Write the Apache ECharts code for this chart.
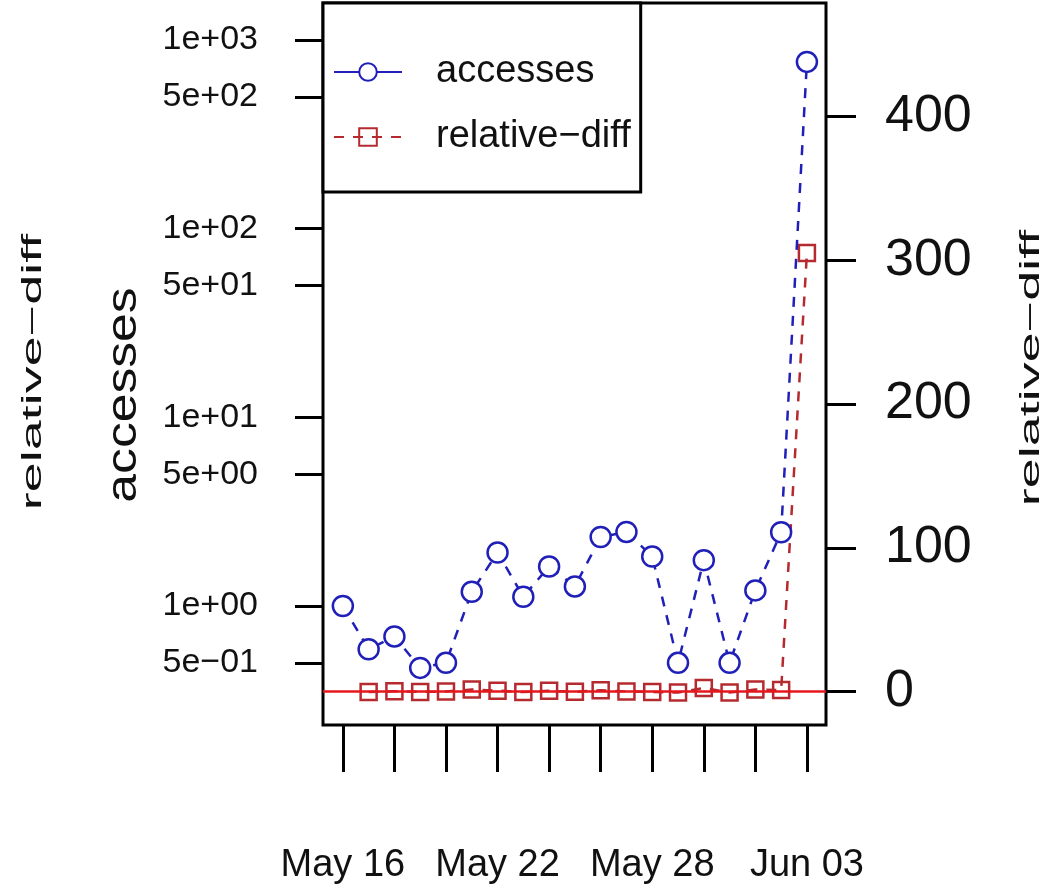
<!DOCTYPE html>
<html>
<head>
<meta charset="utf-8">
<title>accesses and relative-diff</title>
<script src="https://cdn.jsdelivr.net/npm/echarts@6/dist/echarts.min.js"></script>
<style>
  html, body { margin: 0; padding: 0; background: #ffffff; }
  #chart { width: 1057px; height: 892px; }
</style>
</head>
<body>
<div id="chart"></div>
<script>
// Daily observations, May 16 – Jun 03
const dates = [
  '2013-05-16', '2013-05-17', '2013-05-18', '2013-05-19', '2013-05-20',
  '2013-05-21', '2013-05-22', '2013-05-23', '2013-05-24', '2013-05-25',
  '2013-05-26', '2013-05-27', '2013-05-28', '2013-05-29', '2013-05-30',
  '2013-05-31', '2013-06-01', '2013-06-02', '2013-06-03'
];
// accesses per day (log scale, left axis)
const accesses = [
  1.00, 0.59, 0.69, 0.47, 0.50, 1.19, 1.92, 1.12, 1.62, 1.27,
  2.32, 2.47, 1.83, 0.50, 1.75, 0.50, 1.21, 2.46, 765
];
// relative difference to the previous day (right axis); none on the first day
const relativeDiff = [
  null, -0.41, 0.17, -0.32, 0.06, 1.38, 0.61, -0.42, 0.45, -0.22,
  0.83, 0.06, -0.26, -0.73, 2.50, -0.71, 1.42, 1.03, 305
];
// axis ticks and labels
const tickDates = [
  '2013-05-16', '2013-05-18', '2013-05-20', '2013-05-22', '2013-05-24',
  '2013-05-26', '2013-05-28', '2013-05-30', '2013-06-01', '2013-06-03'
];
const labelDates = ['2013-05-16', '2013-05-22', '2013-05-28', '2013-06-03'];
const accessTicks = [0.5, 1, 5, 10, 50, 100, 500, 1000];
const diffTicks = [0, 100, 200, 300, 400];
const zeroLine = 0;

const MONTHS = ['Jan', 'Feb', 'Mar', 'Apr', 'May', 'Jun', 'Jul', 'Aug', 'Sep', 'Oct', 'Nov', 'Dec'];
const DAY = 86400000;
const FONT = '"Liberation Sans", Arial, Helvetica, sans-serif';
const BLUE = '#2020b8';
const DARKRED = '#b52a2e';
const RED = '#e5171d';
const INK = '#111111';

function ts(d) {
  const p = d.split('-').map(Number);
  return Date.UTC(p[0], p[1] - 1, p[2]);
}
const T0 = ts(dates[0]);
// x position = days since the first observation
function dayOf(d) { return Math.round((ts(d) - T0) / DAY); }
function fmtDay(v) {
  const d = new Date(T0 + Math.round(v) * DAY);
  return MONTHS[d.getUTCMonth()] + ' ' + String(d.getUTCDate()).padStart(2, '0');
}
// R-style scientific labels: 1e+03, 5e−01
function sci(v) {
  const e = Math.floor(Math.log10(v) + 1e-9);
  const m = Math.round(v / Math.pow(10, e));
  return m + 'e' + (e < 0 ? '\u2212' : '+') + String(Math.abs(e)).padStart(2, '0');
}

const accessData = dates.map((d, i) => [dayOf(d), accesses[i]]);
const diffData = dates.map((d, i) => [dayOf(d), relativeDiff[i]]).filter(p => p[1] !== null);
const lastDay = dayOf(dates[dates.length - 1]);

const chart = echarts.init(document.getElementById('chart'), null, { renderer: 'canvas' });

chart.setOption({
  animation: false,
  backgroundColor: '#ffffff',
  textStyle: { fontFamily: FONT, color: INK },
  grid: {
    left: 323, top: 3, width: 503, height: 722,
    show: true, borderColor: '#000', borderWidth: 3, backgroundColor: 'transparent',
    containLabel: false, outerBoundsMode: 'none'
  },
  legend: {
    orient: 'vertical', left: 323, top: 3,
    padding: [50, 10, 36, 10], itemGap: 27, itemWidth: 68, itemHeight: 22,
    backgroundColor: '#fff', borderColor: '#000', borderWidth: 3, borderRadius: 0,
    selectedMode: false,
    textStyle: { fontFamily: FONT, fontSize: 38, color: INK, padding: [0, 0, 0, 29] },
    data: [
      { name: 'accesses', lineStyle: { type: 'solid' } },
      { name: 'relative\u2212diff' }
    ]
  },
  xAxis: {
    type: 'value',
    min: -0.77,
    max: lastDay + 0.74,
    axisLine: { show: false, onZero: false },
    splitLine: { show: false },
    axisTick: {
      show: true, inside: false, length: 47,
      lineStyle: { color: '#000', width: 3 },
      customValues: tickDates.map(dayOf)
    },
    axisLabel: {
      customValues: labelDates.map(dayOf),
      formatter: fmtDay,
      margin: 122, fontFamily: FONT, fontSize: 38, color: INK,
      hideOverlap: false
    }
  },
  yAxis: [
    {
      type: 'log', logBase: 10, min: 0.2341, max: 1570, position: 'left',
      axisLine: { show: false, onZero: false },
      splitLine: { show: false },
      axisTick: { show: true, length: 28, lineStyle: { color: '#000', width: 3 }, customValues: accessTicks },
      axisLabel: { customValues: accessTicks, formatter: sci, margin: 65, fontFamily: FONT, fontSize: 34, color: INK }
    },
    {
      type: 'value', min: -23.3, max: 479, position: 'right',
      axisLine: { show: false, onZero: false },
      splitLine: { show: false },
      axisTick: { show: true, length: 30, lineStyle: { color: '#000', width: 3 }, customValues: diffTicks },
      axisLabel: { customValues: diffTicks, margin: 59, fontFamily: FONT, fontSize: 52, color: INK }
    }
  ],
  graphic: [
    {
      type: 'text', x: 124, y: 395, rotation: Math.PI / 2, scaleX: 1.23,
      style: { text: 'accesses', fontFamily: FONT, fontSize: 42, fill: INK, align: 'center', verticalAlign: 'middle' }
    },
    {
      type: 'text', x: 34, y: 372, rotation: Math.PI / 2, scaleX: 2.0,
      style: { text: 'relative\u2212diff', fontFamily: FONT, fontSize: 27, fill: INK, align: 'center', verticalAlign: 'middle' }
    },
    {
      type: 'text', x: 1032, y: 368, rotation: Math.PI / 2, scaleX: 2.0,
      style: { text: 'relative\u2212diff', fontFamily: FONT, fontSize: 27, fill: INK, align: 'center', verticalAlign: 'middle' }
    }
  ],
  series: [
    {
      name: 'accesses', type: 'line', yAxisIndex: 0,
      data: accessData,
      symbol: 'circle', symbolSize: 20,
      itemStyle: { color: '#ffffff', borderColor: BLUE, borderWidth: 2.5 },
      lineStyle: { color: BLUE, width: 2.5, type: [10, 9] },
      z: 3
    },
    {
      name: 'relative\u2212diff', type: 'line', yAxisIndex: 1,
      data: diffData,
      symbol: 'rect', symbolSize: 16,
      itemStyle: { color: 'rgba(0,0,0,0)', borderColor: DARKRED, borderWidth: 2.5 },
      lineStyle: { color: DARKRED, width: 2.5, type: [10, 9] },
      z: 2,
      markLine: {
        silent: true, symbol: ['none', 'none'], label: { show: false },
        lineStyle: { color: RED, type: 'solid', width: 2.5 },
        data: [{ yAxis: zeroLine }]
      }
    }
  ]
});
</script>
</body>
</html>
